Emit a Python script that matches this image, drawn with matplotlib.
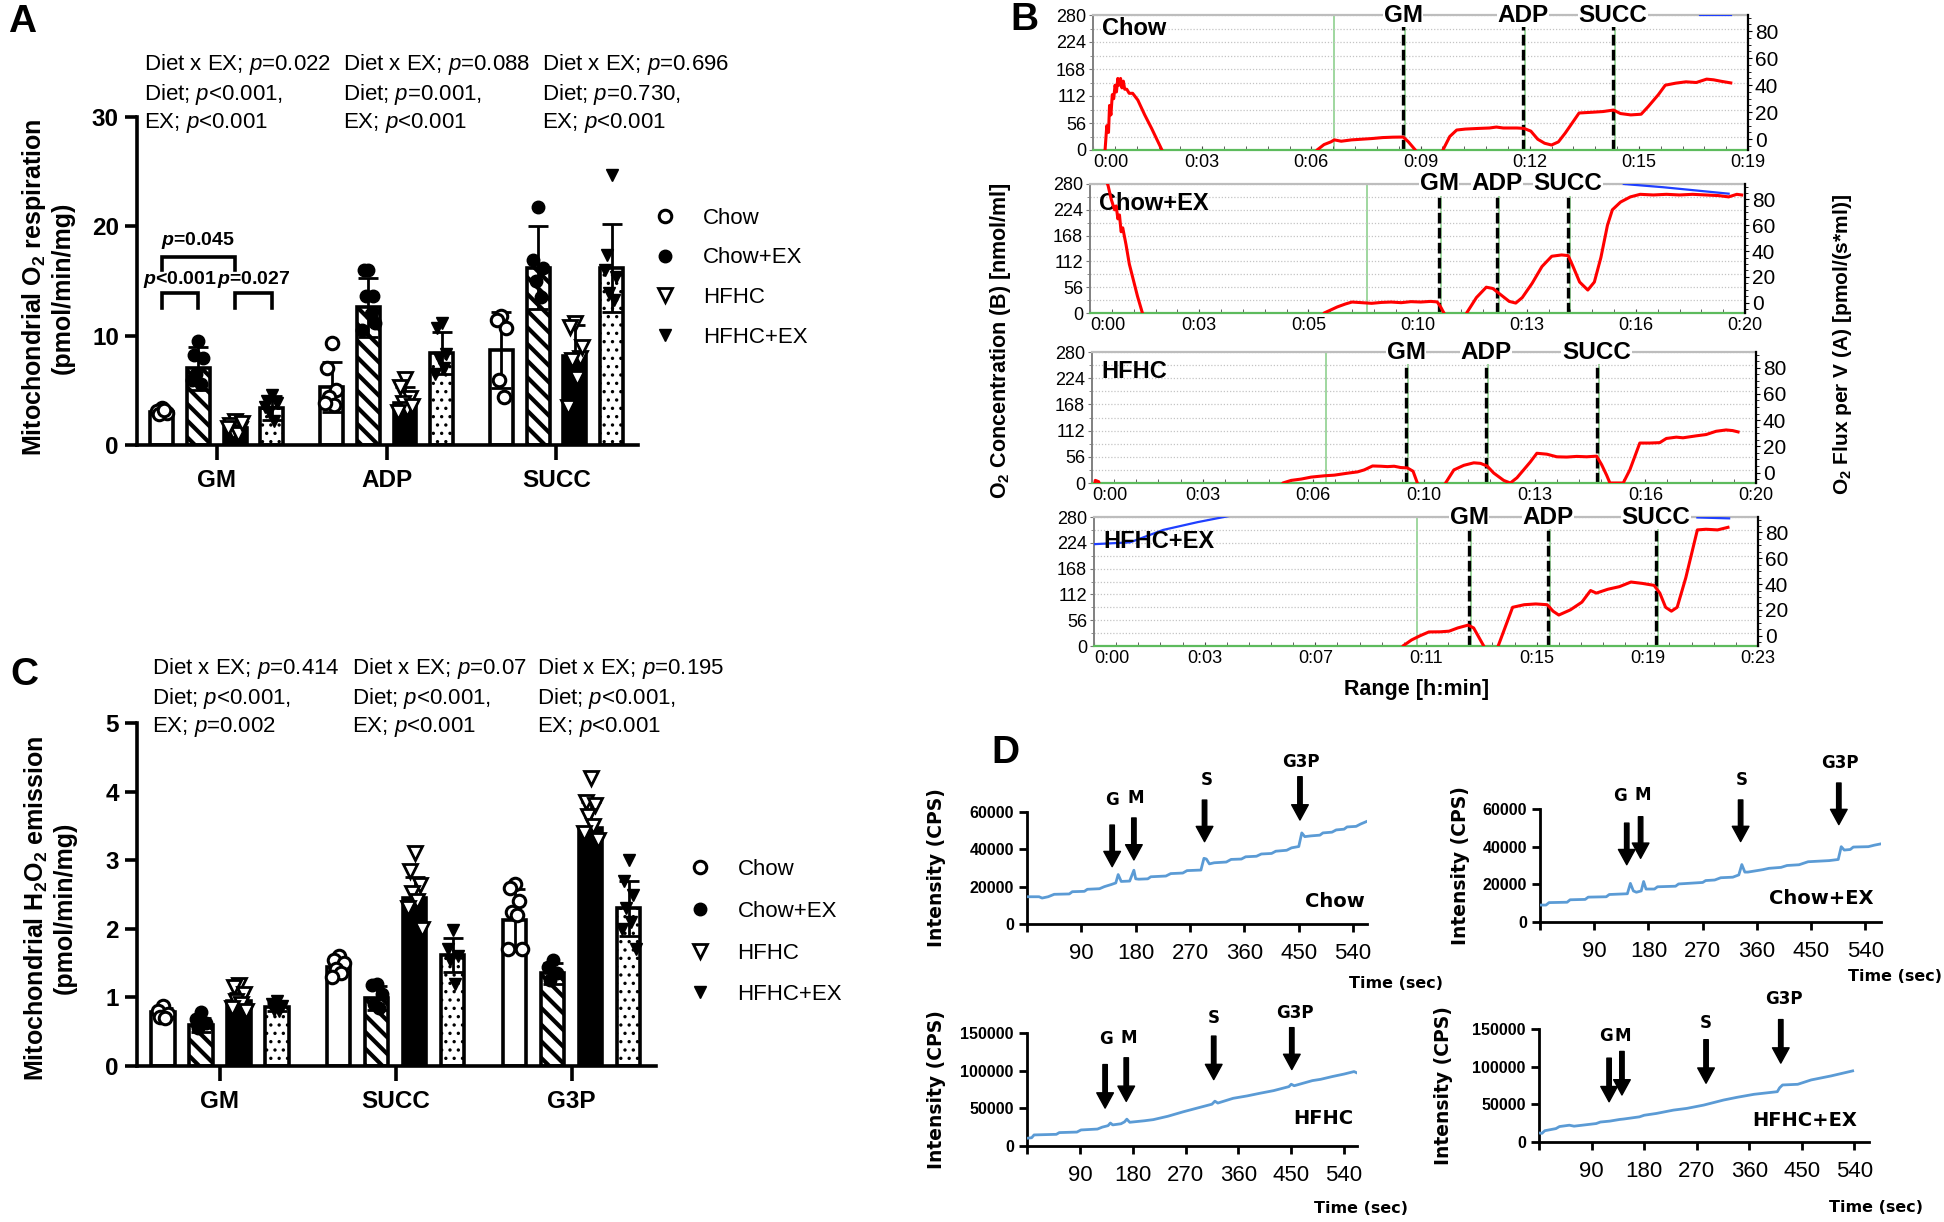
#!/usr/bin/env python3
import numpy as np
import matplotlib

matplotlib.use("Agg")
import matplotlib.pyplot as plt
from matplotlib.lines import Line2D
from matplotlib.ticker import FixedLocator

W, H = 1944, 1222

plt.rcParams["font.family"] = ["Liberation Sans", "DejaVu Sans"]
plt.rcParams["mathtext.fontset"] = "custom"
plt.rcParams["mathtext.rm"] = "Liberation Sans"
plt.rcParams["mathtext.it"] = "Liberation Sans:italic"
plt.rcParams["mathtext.bf"] = "Liberation Sans:bold"
plt.rcParams["mathtext.sf"] = "Liberation Sans:bold:italic"
plt.rcParams["hatch.linewidth"] = 3.0

DIETS = ["Chow", "Chow+EX", "HFHC", "HFHC+EX"]

# ---- panel A: mitochondrial O2 respiration (pmol/min/mg)
A_GROUPS = ["GM", "ADP", "SUCC"]
A_MEAN = [
    [3.0, 5.3, 8.7],
    [7.0, 12.6, 16.2],
    [1.6, 3.8, 8.1],
    [3.4, 8.4, 16.2],
]
A_SD = [
    [0.3, 2.3, 3.5],
    [2.0, 2.7, 3.8],
    [0.5, 1.5, 2.9],
    [1.1, 1.9, 4.0],
]
A_POINTS = [
    [[3.4, 3.1, 2.9, 2.8, 3.2], [9.3, 7.0, 5.0, 4.4, 3.7, 3.8], [11.8, 11.4, 10.7, 5.9, 4.4]],
    [[9.5, 8.2, 8.0, 6.5, 5.6, 5.9], [16.0, 16.0, 13.6, 13.6, 12.0, 10.5, 11.2], [21.8, 16.9, 16.2, 15.0, 13.5]],
    [[2.2, 1.8, 1.5, 1.2, 1.0, 1.6, 2.0], [6.0, 5.3, 4.3, 3.8, 3.3, 3.0, 3.6], [11.2, 10.8, 8.0, 7.8, 6.1, 3.5, 9.0]],
    [[4.6, 4.0, 3.8, 3.0, 2.2, 3.5], [11.2, 10.7, 8.3, 8.0, 7.0, 6.5], [24.7, 17.4, 15.4, 13.9, 13.3, 16.0]],
]
A_NOTES = [
    "Diet x EX; $\\mathit{p}$=0.022\nDiet; $\\mathit{p}$<0.001,\nEX; $\\mathit{p}$<0.001",
    "Diet x EX; $\\mathit{p}$=0.088\nDiet; $\\mathit{p}$=0.001,\nEX; $\\mathit{p}$<0.001",
    "Diet x EX; $\\mathit{p}$=0.696\nDiet; $\\mathit{p}$=0.730,\nEX; $\\mathit{p}$<0.001",
]
# (bar i, bar j, leg bottom, bracket top, label, label y) inside the GM group
A_BRACKETS = [
    (0, 2, 16.0, 17.2, "$\\mathsf{p}$=0.045", 18.7),
    (0, 1, 12.5, 13.9, "$\\mathsf{p}$<0.001", 15.1),
    (2, 3, 12.5, 13.9, "$\\mathsf{p}$=0.027", 15.1),
]

# ---- panel C: mitochondrial H2O2 emission (pmol/min/mg)
C_GROUPS = ["GM", "SUCC", "G3P"]
C_MEAN = [
    [0.78, 1.45, 2.13],
    [0.60, 0.99, 1.35],
    [0.95, 2.45, 3.47],
    [0.86, 1.62, 2.30],
]
C_SD = [
    [0.07, 0.10, 0.45],
    [0.10, 0.18, 0.15],
    [0.12, 0.30, 0.38],
    [0.06, 0.25, 0.40],
]
C_POINTS = [
    [[0.88, 0.8, 0.76, 0.72, 0.7], [1.6, 1.55, 1.5, 1.42, 1.35, 1.3], [2.65, 2.6, 2.4, 2.25, 2.2, 1.7, 1.7]],
    [[0.78, 0.68, 0.62, 0.55], [1.2, 1.18, 1.05, 0.9, 0.85], [1.55, 1.45, 1.35, 1.25]],
    [[1.18, 1.15, 1.05, 0.95, 0.9, 0.85, 0.8], [3.1, 2.84, 2.64, 2.52, 2.4, 2.3, 2.0], [4.2, 3.85, 3.8, 3.65, 3.5, 3.4, 3.3]],
    [[0.95, 0.9, 0.88, 0.82, 0.8], [1.98, 1.7, 1.6, 1.55, 1.2], [3.0, 2.7, 2.5, 2.3, 2.1, 2.0, 1.7]],
]
C_NOTES = [
    "Diet x EX; $\\mathit{p}$=0.414\nDiet; $\\mathit{p}$<0.001,\nEX; $\\mathit{p}$=0.002",
    "Diet x EX; $\\mathit{p}$=0.07\nDiet; $\\mathit{p}$<0.001,\nEX; $\\mathit{p}$<0.001",
    "Diet x EX; $\\mathit{p}$=0.195\nDiet; $\\mathit{p}$<0.001,\nEX; $\\mathit{p}$<0.001",
]

# ---- panel B: Oroboros traces (time in min, flux in pmol/(s*ml), O2 in nmol/ml)
B_XMAX = [19, 20, 20, 23]
B_XTICKLABELS = [
    ["0:00", "0:03", "0:06", "0:09", "0:12", "0:15", "0:19"],
    ["0:00", "0:03", "0:05", "0:10", "0:13", "0:16", "0:20"],
    ["0:00", "0:03", "0:06", "0:10", "0:13", "0:16", "0:20"],
    ["0:00", "0:03", "0:07", "0:11", "0:15", "0:19", "0:23"],
]
B_EVENT_NAMES = ["GM", "ADP", "SUCC"]
B_EVENTS = [[9.0, 12.47, 15.08], [10.66, 12.43, 14.6], [9.46, 11.87, 15.2], [12.99, 15.73, 19.47]]
B_MARKS = [7.0, 8.46, 7.05, 11.2]
B_T = [
    [0.35, 0.4, 0.45, 0.48, 0.52, 0.56, 0.6, 0.64, 0.68, 0.72, 0.76, 0.8, 0.84, 0.88, 0.92, 0.98, 1.05, 1.15, 1.3, 1.5, 1.7, 1.85, 2.0, 2.1,
     6.3, 6.5, 6.7, 6.9, 7.0, 7.2, 7.5, 7.8, 8.1, 8.4, 8.7, 9.0, 9.15, 9.35, 9.45,
     10.05, 10.15, 10.35, 10.55, 10.8, 11.2, 11.5, 11.7, 11.9, 12.3, 12.5, 12.7, 12.9, 13.1, 13.3, 13.5, 13.7, 13.9, 14.1, 14.5,
     14.8, 15.1, 15.3, 15.6, 15.9, 16.1, 16.4, 16.6, 16.9, 17.2, 17.5, 17.8, 18.0, 18.2, 18.5],
    [0.4, 0.55, 0.65, 0.75, 0.8, 0.85, 0.9, 0.95, 1.0, 1.1, 1.2, 1.3, 1.45, 1.6, 1.7,
     7.0, 7.15, 7.55, 7.8, 8.0, 8.3, 8.6, 8.9, 9.2, 9.5, 9.8, 10.1, 10.4, 10.6, 10.7, 10.85, 11.0,
     11.4, 11.5, 11.8, 12.1, 12.3, 12.5, 12.8, 13.0, 13.2, 13.5, 13.8, 14.1, 14.4, 14.6, 14.75, 14.95, 15.2, 15.4, 15.6, 15.8,
     15.95, 16.2, 16.5, 16.8, 17.2, 17.6, 18.0, 18.4, 18.8, 19.2, 19.5, 19.75, 19.9],
    [0.05, 0.1, 0.2, 0.3,
     5.6, 5.75, 6.0, 6.3, 6.6, 7.0, 7.3, 7.7, 8.0, 8.2, 8.45, 8.7, 8.9, 9.1, 9.3, 9.5, 9.67, 9.8, 9.9,
     10.5, 10.65, 10.9, 11.2, 11.5, 11.7, 11.9, 12.1, 12.4, 12.6, 12.8, 13.0, 13.2, 13.4, 13.7, 14.0, 14.3, 14.6, 14.9, 15.2,
     15.35, 15.5, 15.6, 16.0, 16.2, 16.5, 16.8, 17.1, 17.3, 17.6, 17.8, 18.2, 18.5, 18.8, 19.1, 19.3, 19.46],
    [10.6, 10.7, 11.0, 11.3, 11.6, 12.0, 12.3, 12.6, 12.96, 13.15, 13.3, 13.5, 13.6,
     13.9, 14.0, 14.3, 14.5, 14.9, 15.3, 15.7, 15.9, 16.1, 16.5, 16.9, 17.2, 17.4, 17.8, 18.2, 18.6, 19.0, 19.4, 19.6, 19.8,
     20.0, 20.2, 20.5, 20.9, 21.2, 21.6, 21.96],
]
B_FLUX = [
    [-8, 10, 5, 25, 18, 33, 30, 40, 35, 45, 40, 45, 38, 43, 37, 37, 34, 34, 29, 18, 8, 0, -8, -15,
     -15, -8, -4, -2, -0.5, -1.5, -0.5, 0, 0.5, 1.2, 1.5, 1.6, -2, -8, -15,
     -15, -8, 2, 6.8, 7.5, 8, 8.3, 9, 8.3, 8.3, 8, 6, 0, -3, -4.3, -2, 4.6, 12, 19.4, 20,
     20.5, 21.6, 19, 18, 18.5, 24, 33, 40, 41.5, 42.5, 42, 44.5, 44, 43, 41.7],
    [100, 91, 80, 72, 75, 65, 68, 55, 58, 45, 30, 20, 5, -8, -15,
     -15, -8, -3.3, -1, 0.5, 0, -0.5, 0.2, 0.5, 0, 0.8, 0.5, 1, 0.6, -3, -10, -15,
     -15, -8, 4, 12, 11, 7, 1, -0.3, 4, 15, 28, 36, 37, 36.5, 28, 16, 9.8, 16, 35, 60,
     72, 78, 82, 84, 83.5, 84, 83.5, 84, 83.5, 83, 82, 84, 83.5],
    [-15, -6, -7, -15,
     -15, -8, -6, -5, -3.5, -2.5, -2, -0.5, 0.5, 2, 5, 4.8, 4.5, 4.8, 3.8, 3.5, 1, -8, -15,
     -15, -8, 2, 5.5, 7.4, 7, 5, -0.4, -6, -8, -4, 2, 8, 14.7, 14, 12, 11.8, 12.3, 12, 12.5,
     6, -2, -8, -8, 2, 22.5, 22.5, 22.8, 26, 27, 26.5, 28, 29, 31.5, 32.5, 32, 31],
    [-15, -8, -3.3, 0, 2.9, 3, 3.5, 6, 8.2, 6, 0, -8, -15,
     -15, -8, 10, 22, 24, 24.6, 24, 19, 16, 20, 26, 35, 33, 36, 38, 41.6, 40.5, 39, 33, 22,
     19, 22, 45, 82, 82.5, 82, 84],
]
B_O2_T = [
    [17.6, 18.5],
    [16.3, 17.5, 18.5, 19.5],
    [],
    [0.0, 1.25, 2.4, 3.6, 4.5, 4.9, np.nan, 20.9, 22.0],
]
B_O2 = [
    [279, 279],
    [280, 273, 266, 259],
    [],
    [221, 225, 252, 269, 280, 285, np.nan, 279, 277],
]

# ---- panel D: Amplex traces (time in s, intensity in CPS)
D_YMAX = [60000, 60000, 150000, 150000]
D_XMAX = [563, 566, 562, 565]
D_X = [
    [0, 20, 25, 35, 45, 70, 75, 95, 100, 120, 128, 140, 147, 151, 156, 170, 177, 180, 185, 200, 205, 230, 238, 258, 265,
     288, 293, 297, 302, 310, 330, 338, 355, 362, 380, 388, 405, 412, 430, 438, 450, 455, 460, 470, 485, 490, 505, 512,
     525, 530, 545, 552, 563],
    [0, 10, 15, 45, 50, 75, 80, 110, 115, 145, 150, 155, 160, 168, 172, 176, 190, 195, 225, 230, 270, 275, 290, 300, 320,
     330, 335, 340, 345, 370, 380, 400, 410, 430, 445, 480, 495, 500, 505, 515, 520, 545, 555, 566],
    [0, 8, 12, 50, 55, 85, 92, 120, 128, 138, 142, 146, 160, 166, 170, 175, 200, 215, 240, 266, 294, 315, 320, 325, 351,
     375, 396, 420, 446, 450, 455, 486, 500, 520, 540, 557, 562],
    [0, 5, 10, 29, 35, 52, 60, 98, 105, 121, 138, 145, 172, 180, 201, 230, 253, 282, 316, 339, 368, 408, 412, 417, 443,
     466, 500, 537],
]
D_Y = [
    [14600, 14600, 13900, 14600, 15900, 16100, 17300, 17500, 18600, 18900, 20000, 21200, 22000, 26500, 22800, 23000,
     28800, 24200, 24000, 24200, 25300, 25700, 27000, 27300, 28600, 28900, 35200, 34800, 32200, 32800, 33200, 34600,
     34800, 36000, 36300, 37500, 37800, 39000, 39500, 40800, 41500, 48800, 46800, 47200, 47600, 48800, 49200, 50400,
     50800, 52000, 52300, 53500, 55000],
    [9000, 9000, 10300, 10500, 11800, 12000, 13200, 13400, 14600, 15000, 20500, 16500, 15800, 16500, 21500, 17500, 17500,
     18700, 19000, 20200, 21000, 22000, 22300, 23500, 23800, 25000, 30500, 26500, 26500, 27800, 28500, 29000, 30000,
     30400, 32000, 32600, 33200, 40000, 38200, 38500, 39800, 40000, 40800, 41500],
    [10300, 11000, 14700, 15500, 17800, 18500, 21300, 22500, 25000, 27000, 30500, 28000, 29500, 32000, 35600, 31500,
     33500, 35000, 39500, 45400, 51200, 55500, 59500, 57000, 63300, 66500, 69900, 73500, 78800, 82000, 80000, 86800,
     88500, 92200, 95500, 98800, 97000],
    [12000, 11500, 15000, 17800, 20500, 22300, 21000, 24500, 26500, 27700, 29900, 30500, 33400, 35500, 37900, 42300,
     44600, 49000, 55700, 59300, 63300, 66800, 72000, 75700, 76600, 82400, 87700, 94400],
]
D_ARROW_NAMES = ["G", "M", "S", "G3P"]
D_ARROW_X = [[141, 177, 294, 452], [144, 167, 333, 496], [133, 169, 318, 451], [120, 142, 286, 414]]
D_ARROW_TAIL = [[53000, 56800, 66400, 78900], [52500, 55900, 64800, 73800],
                [108100, 117100, 145900, 157100], [111300, 120200, 135800, 162500]]
D_ARROW_HEAD = [[30700, 34300, 44100, 55700], [30400, 33800, 42700, 51700],
                [50300, 59200, 88100, 101500], [53400, 62400, 78000, 104700]]
D_LABEL_X = [[141, 180, 297, 454], [133, 170, 335, 498], [134, 174, 318, 456], [115, 144, 286, 420]]
D_LABEL_Y = [[66400, 67500, 77100, 86900], [66700, 67400, 75400, 84400],
             [141500, 143800, 170500, 177200], [140300, 140300, 158100, 189200]]
D_NAME_XY = [(560, 12000), (553, 12600), (555, 37000), (545, 29000)]

# ---- styling / layout
BAR_STEP = 0.216
BAR_W = 0.135
BAR_OFFSETS = [-1.5 * BAR_STEP, -0.5 * BAR_STEP, 0.5 * BAR_STEP, 1.5 * BAR_STEP]
FILLS = ["white", "white", "black", "white"]
HATCHES = [None, "\\\\", None, ".."]
MARKERS = [
    dict(marker="o", mfc="white", mec="black", mew=2.2, ms=9),
    dict(marker="o", mfc="black", mec="black", mew=1, ms=9),
    dict(marker="v", mfc="white", mec="black", mew=2.0, ms=10),
    dict(marker="v", mfc="black", mec="black", mew=1, ms=8),
]
JITTER = np.array([0.0, -0.028, 0.028, -0.014, 0.014, -0.04, 0.04])
RED = "#ff0000"
BLUE = "#1f3fff"
GREEN = "#8fd18f"
TRACE = "#5b9bd5"
D_FONT = ["DejaVu Sans"]


def px_rect(left, top, right, bottom):
    return [left / W, 1 - bottom / H, (right - left) / W, (bottom - top) / H]


def bar_panel(ax, groups, mean, sd, points, ymax, yticks, ylabel, label_xy,
              notes, note_x, note_y, legend_xy, legend_spacing):
    gx = np.arange(len(groups))
    for d in range(4):
        xs = gx + BAR_OFFSETS[d]
        bars = ax.bar(xs, mean[d], width=BAR_W, color=FILLS[d], edgecolor="black",
                      linewidth=2.6, hatch=HATCHES[d], zorder=2)
        if HATCHES[d] == ".." and hasattr(bars[0], "set_hatch_linewidth"):
            for b in bars:
                b.set_hatch_linewidth(1.2)
        ax.errorbar(xs, mean[d], yerr=sd[d], fmt="none", ecolor="black",
                    elinewidth=2.0, capsize=7, capthick=2.0, zorder=3)
        for g in range(len(groups)):
            vals = points[d][g]
            ax.plot(xs[g] + JITTER[: len(vals)], vals, linestyle="none", zorder=4,
                    clip_on=False, **MARKERS[d])

    ax.set_xlim(-0.47, 2.48)
    ax.set_ylim(0, ymax)
    ax.set_yticks(yticks)
    ax.set_xticks(gx)
    ax.set_xticklabels(groups, fontsize=17.5, fontweight="bold")
    for lab in ax.get_yticklabels():
        lab.set_fontsize(17.5)
        lab.set_fontweight("bold")
    for side in ("top", "right"):
        ax.spines[side].set_visible(False)
    for side in ("left", "bottom"):
        ax.spines[side].set_linewidth(2.6)
    ax.tick_params(axis="y", width=2.6, length=9, pad=4)
    ax.tick_params(axis="x", width=2.6, length=11, pad=6)
    ax.set_ylabel(ylabel, fontsize=18, fontweight="bold", linespacing=1.15)
    ax.yaxis.set_label_coords(*label_xy)

    for note, nx in zip(notes, note_x):
        ax.text(nx, note_y, note, transform=ax.transAxes, ha="left", va="top",
                fontsize=16, linespacing=1.25, clip_on=False)

    handles = [Line2D([], [], linestyle="none", **MARKERS[d]) for d in range(4)]
    ax.legend(handles, DIETS, loc="center left", bbox_to_anchor=legend_xy,
              frameon=False, fontsize=16, handlelength=1.0, handletextpad=1.2,
              labelspacing=legend_spacing, borderpad=0, borderaxespad=0)


fig = plt.figure(figsize=(W / 100, H / 100), dpi=100)

# ---------------- A
axA = fig.add_axes(px_rect(137, 117, 638, 445))
bar_panel(axA, A_GROUPS, A_MEAN, A_SD, A_POINTS, 30, [0, 10, 20, 30],
          "Mitochondrial O$_\\mathbf{2}$ respiration\n(pmol/min/mg)", (-0.124, 0.48),
          A_NOTES, [0.014, 0.411, 0.808], 1.198, (1.032, 0.51), 0.84)
for i, j, low, top, label, ly in A_BRACKETS:
    x1, x2 = BAR_OFFSETS[i], BAR_OFFSETS[j]
    axA.plot([x1, x1, x2, x2], [low, top, top, low], color="black", lw=2.6,
             solid_joinstyle="miter", zorder=5)
    axA.text((x1 + x2) / 2, ly, label, ha="center", va="center", fontsize=14,
             fontweight="bold", zorder=6)

# ---------------- C
axC = fig.add_axes(px_rect(137, 723, 656, 1066))
bar_panel(axC, C_GROUPS, C_MEAN, C_SD, C_POINTS, 5, [0, 1, 2, 3, 4, 5],
          "Mitochondrial H$_\\mathbf{2}$O$_\\mathbf{2}$ emission\n(pmol/min/mg)", (-0.116, 0.46),
          C_NOTES, [0.029, 0.414, 0.771], 1.195, (1.063, 0.39), 0.93)

# ---------------- B
B_RECTS = [(1093, 15, 1748, 150), (1090, 184, 1745, 313), (1092, 352, 1756, 483), (1094, 517, 1758, 646)]
B_NAME_Y = [0.9, 0.85, 0.85, 0.81]
for k in range(4):
    ax = fig.add_axes(px_rect(*B_RECTS[k]))
    ax2 = ax.twinx()
    xmax = B_XMAX[k]
    ax.set_xlim(0, xmax)
    ax.set_ylim(0, 280)
    ax2.set_ylim(-8, 92)

    ax.set_yticks(np.arange(0, 281, 56))
    ax.yaxis.set_minor_locator(FixedLocator(np.arange(0, 281, 28)))
    ax.grid(axis="y", which="both", color="#c4c4c4", linestyle=(0, (1, 1.5)), lw=0.9)
    ax.set_xticks(np.linspace(0, xmax, 7))
    ax.set_xticklabels(B_XTICKLABELS[k], fontsize=13)
    ax.get_xticklabels()[0].set_horizontalalignment("left")
    ax.xaxis.set_minor_locator(FixedLocator(np.linspace(0, xmax, 31)))
    ax.tick_params(axis="x", which="both", direction="in", length=3, color="#444", pad=3)
    ax.tick_params(axis="y", which="major", labelsize=13, length=3, color="#777", pad=2)
    ax.tick_params(axis="y", which="minor", length=2, color="#777")
    ax2.set_yticks([0, 20, 40, 60, 80])
    ax2.yaxis.set_minor_locator(FixedLocator(np.arange(-5, 91, 5)))
    ax2.tick_params(axis="y", which="major", labelsize=15, length=3, pad=2)
    ax2.tick_params(axis="y", which="minor", length=2)

    ax.spines["bottom"].set_color("#5dbb5d")
    ax.spines["bottom"].set_linewidth(1.6)
    ax.spines["top"].set_color("#bdbdbd")
    ax.spines["top"].set_linewidth(1.6)
    ax.spines["left"].set_color("#808080")
    ax.spines["left"].set_linewidth(1.4)
    ax.spines["right"].set_visible(False)
    for side in ("top", "bottom", "left"):
        ax2.spines[side].set_visible(False)
    ax2.spines["right"].set_linewidth(1.6)

    ax.axvline(B_MARKS[k], color=GREEN, lw=1.2, zorder=1)
    for name, t in zip(B_EVENT_NAMES, B_EVENTS[k]):
        ax.axvline(t + 0.06, color=GREEN, lw=1.2, zorder=1)
        ax.axvline(t, color="black", lw=2.4, dashes=(3.2, 1.3), zorder=2)
        ax.text(t, 280, name, ha="center", va="center", fontsize=17.5, fontweight="bold",
                bbox=dict(facecolor="white", edgecolor="none", pad=0.5), zorder=6, clip_on=False)

    if len(B_O2_T[k]):
        ax.plot(B_O2_T[k], B_O2[k], color=BLUE, lw=1.6, zorder=3)
    ax2.plot(B_T[k], B_FLUX[k], color=RED, lw=2.2, zorder=3)
    ax.text(0.014, B_NAME_Y[k], DIETS[k], transform=ax.transAxes, ha="left", va="center",
            fontsize=17, fontweight="bold", zorder=6)

fig.text(1000 / W, 1 - 341 / H, "O$_\\mathbf{2}$ Concentration (B) [nmol/ml]", rotation=90,
         ha="center", va="center", fontsize=15.5, fontweight="bold")
fig.text(1842 / W, 1 - 345 / H, "O$_\\mathbf{2}$ Flux per V (A) [pmol/(s*ml)]", rotation=90,
         ha="center", va="center", fontsize=15, fontweight="bold")
fig.text(1417 / W, 1 - 690 / H, "Range [h:min]", ha="center", va="center", fontsize=15.5,
         fontweight="bold")

# ---------------- D
D_RECTS = [(1027, 812, 1367, 924), (1540, 809, 1881, 922), (1027, 1033, 1357, 1146), (1539, 1029, 1869, 1142)]
D_TIME_XY = [(1.224, -0.527), (1.179, -0.484), (1.155, -0.549), (1.164, -0.584)]
D_YLABEL_X = [-0.238, -0.205, -0.245, -0.26]
for k in range(4):
    ax = fig.add_axes(px_rect(*D_RECTS[k]))
    ax.plot(D_X[k], D_Y[k], color=TRACE, lw=2.0, zorder=3)
    ax.set_xlim(0, D_XMAX[k])
    ax.set_ylim(0, D_YMAX[k])
    ax.set_xticks([0, 90, 180, 270, 360, 450, 540])
    ax.set_xticklabels(["", "90", "180", "270", "360", "450", "540"], fontsize=16)
    ax.set_yticks(np.linspace(0, D_YMAX[k], 4))
    ax.set_yticklabels([f"{int(v)}" for v in np.linspace(0, D_YMAX[k], 4)],
                       fontsize=11.5, fontweight="bold")
    for side in ("top", "right"):
        ax.spines[side].set_visible(False)
    for side in ("left", "bottom"):
        ax.spines[side].set_linewidth(2.0)
    ax.tick_params(width=2.0, length=6)
    ax.tick_params(axis="x", pad=8)

    for name, x, tail, head, lx, ly in zip(D_ARROW_NAMES, D_ARROW_X[k], D_ARROW_TAIL[k],
                                            D_ARROW_HEAD[k], D_LABEL_X[k], D_LABEL_Y[k]):
        ax.annotate("", xy=(x, head), xytext=(x, tail), annotation_clip=False,
                    arrowprops=dict(facecolor="black", edgecolor="black", width=3.2,
                                    headwidth=12, headlength=11, shrink=0))
        ax.text(lx, ly, name, ha="center", va="center", fontsize=12, fontweight="bold",
                family=D_FONT, clip_on=False)

    nx, ny = D_NAME_XY[k]
    ax.text(nx, ny, DIETS[k], ha="right", va="center", fontsize=14, fontweight="bold",
            family=D_FONT)
    tx, ty = D_TIME_XY[k]
    ax.text(tx, ty, "Time (sec)", transform=ax.transAxes, ha="right", va="center",
            fontsize=11.5, fontweight="bold", family=D_FONT, clip_on=False)
    ax.set_ylabel("Intensity (CPS)", fontsize=13.5, fontweight="bold", family=D_FONT)
    ax.yaxis.set_label_coords(D_YLABEL_X[k], 0.5)

# ---------------- panel letters
for letter, (lx, ly) in zip("ABCD", [(22, 22), (1024, 20), (24, 675), (1005, 753)]):
    fig.text(lx / W, 1 - ly / H, letter, ha="center", va="center", fontsize=28,
             fontweight="bold")

fig.savefig("out.png", dpi=100)
